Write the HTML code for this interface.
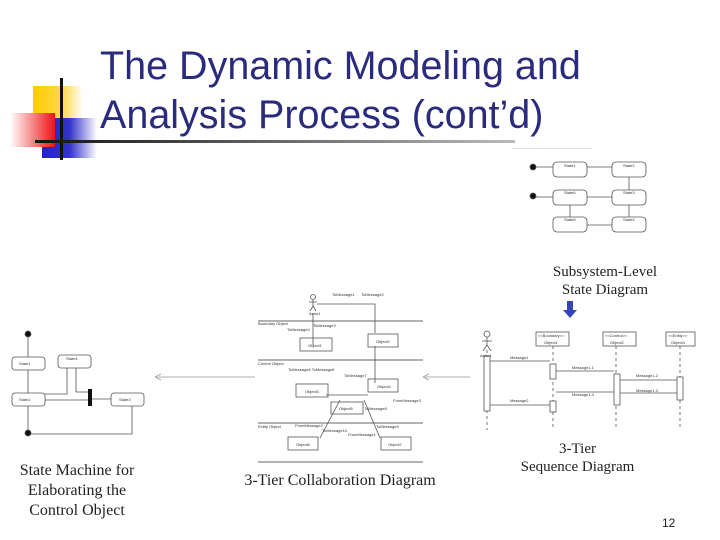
<!DOCTYPE html>
<html><head><style>
body{margin:0;width:720px;height:540px;background:#fff;overflow:hidden;position:relative;font-family:"Liberation Sans",sans-serif}
.t{position:absolute;left:100px;top:42px;font-size:39.5px;line-height:49px;color:#2b2b7e;white-space:nowrap}
.cap{position:absolute;font-family:"Liberation Serif",serif;font-size:16px;color:#222;text-align:center;line-height:20px}
</style></head><body>
<svg width="720" height="540" style="position:absolute;left:0;top:0" font-family="Liberation Sans" font-size="4">
<defs>
<linearGradient id="y" x1="0" x2="1"><stop offset="0" stop-color="#ffcc00"/><stop offset="0.6" stop-color="#ffd84a"/><stop offset="1" stop-color="#fff"/></linearGradient>
<linearGradient id="r" x1="1" x2="0"><stop offset="0" stop-color="#ee1111"/><stop offset="1" stop-color="#fff"/></linearGradient>
<linearGradient id="b" x1="0" x2="1"><stop offset="0" stop-color="#2222cc"/><stop offset="0.5" stop-color="#3333cc"/><stop offset="1" stop-color="#fff"/></linearGradient>
<linearGradient id="l" x1="0" x2="1"><stop offset="0" stop-color="#111"/><stop offset="1" stop-color="#bbb"/></linearGradient>
</defs>
<rect x="33" y="86" width="50" height="34" fill="url(#y)"/>
<rect x="42" y="118" width="55" height="40" fill="url(#b)"/>
<rect x="10" y="113" width="45" height="34" fill="url(#r)"/>
<rect x="60" y="78" width="3" height="82" fill="#111"/>
<rect x="35" y="140" width="480" height="3" fill="url(#l)"/>
<rect x="512" y="148" width="80" height="1" fill="#ddd"/>
<g fill="none" stroke="#555" stroke-width="0.8">
<circle cx="533" cy="167" r="3" fill="#111"/><circle cx="533" cy="196" r="3" fill="#111"/>
<rect x="553" y="162" width="34" height="15" rx="4"/><rect x="612" y="162" width="34" height="15" rx="4"/>
<rect x="553" y="190" width="34" height="15" rx="4"/><rect x="612" y="190" width="34" height="15" rx="4"/>
<rect x="553" y="217" width="34" height="15" rx="4"/><rect x="612" y="217" width="34" height="15" rx="4"/>
<path d="M536 167H553M587 167H612M629 177V190M587 197H612M553 197H536M629 205V217M612 225H587M570 217V205"/>
<rect x="536" y="332" width="33" height="14"/><rect x="603" y="332" width="33" height="14"/><rect x="666" y="332" width="29" height="14"/>
<path d="M487 350V430M553 346V430M616 346V430M680 346V430" stroke-dasharray="3 3"/>
<rect x="484" y="356" width="6" height="55" fill="#fff"/><rect x="550" y="364" width="6" height="15" fill="#fff"/>
<rect x="614" y="374" width="6" height="31" fill="#fff"/><rect x="677" y="377" width="6" height="23" fill="#fff"/>
<rect x="550" y="401" width="6" height="11" fill="#fff"/>
<path d="M490 361H550M556 371H614M620 380H677M677 393H620M614 392H556M550 405H490"/>
<circle cx="487" cy="334" r="3"/><path d="M487 337V345M482 341H492M487 345L483 351M487 345L491 351"/>
<path d="M157 377H255M155 377l6-3M155 377l6 3M425 377H470M423 377l6-3M423 377l6 3" stroke="#999"/>
<path d="M258 321H423M258 360H423M258 423H423M258 462H423" stroke="#333"/>
<circle cx="313" cy="297" r="2.5"/><path d="M313 300V306M309 302H317M313 306L310 311M313 306L316 311"/>
<path d="M317 304H375V333M313 313V345M375 346V383M326 395H368M340 400L320 438M364 400L380 438"/>
<rect x="300" y="338" width="32" height="13"/><rect x="368" y="334" width="30" height="13"/>
<rect x="296" y="384" width="32" height="13"/><rect x="368" y="379" width="30" height="13"/>
<rect x="331" y="402" width="32" height="12"/><rect x="288" y="437" width="30" height="13"/><rect x="381" y="437" width="30" height="13"/>
<circle cx="28" cy="334" r="3" fill="#111"/><circle cx="28" cy="433" r="3" fill="#111"/>
<rect x="12" y="357" width="33" height="13" rx="3"/><rect x="58" y="355" width="33" height="13" rx="3"/>
<rect x="12" y="393" width="33" height="13" rx="3"/><rect x="111" y="393" width="33" height="13" rx="3"/>
<path d="M28 337V357M28 370V393M28 406V430M45 394H67V368M76 368V392H88M45 400H88M92 399H111M132 406V434H31"/>
</g>
<rect x="88" y="389" width="4" height="17" fill="#111"/>
<path d="M567 301h6v9h4l-7 8l-7-8h4z" fill="#3344bb"/>
<g fill="#333">
<text x="564" y="167">State1</text><text x="623" y="167">State2</text><text x="564" y="194">State6</text><text x="623" y="194">State3</text><text x="564" y="221">State5</text><text x="623" y="221">State4</text>
<text x="538" y="337">&lt;&lt;Boundary&gt;&gt;</text><text x="544" y="344">Object1</text><text x="605" y="337">&lt;&lt;Control&gt;&gt;</text><text x="610" y="344">Object2</text><text x="668" y="337">&lt;&lt;Entity&gt;&gt;</text><text x="671" y="344">Object3</text>
<text x="480" y="357">Actor1</text><text x="510" y="359">Message1</text><text x="572" y="369">Message1.1</text><text x="636" y="377">Message1.2</text><text x="636" y="392">Message1.3</text><text x="572" y="396">Message1.4</text><text x="510" y="402">Message2</text>
<text x="332" y="296">ToMessage1</text><text x="361" y="296">ToMessage2</text><text x="309" y="315">Actor1</text><text x="258" y="325">Boundary Object</text><text x="313" y="327">ToMessage3</text><text x="287" y="331">ToMessage4</text>
<text x="308" y="347">Object1</text><text x="376" y="343">Object2</text><text x="258" y="365">Control Object</text><text x="288" y="371">ToMessage6 ToMessage5</text><text x="344" y="377">ToMessage7</text>
<text x="305" y="393">Object3</text><text x="377" y="388">Object4</text><text x="393" y="402">FromMessage3</text><text x="339" y="410">Object5</text><text x="364" y="410">ToMessage8</text>
<text x="258" y="428">Entity Object</text><text x="295" y="427">FromMessage2</text><text x="322" y="432">ToMessage10</text><text x="348" y="436">FromMessage1</text><text x="376" y="428">ToMessage9</text>
<text x="296" y="446">Object6</text><text x="388" y="446">Object7</text>
<text x="19" y="365">State1</text><text x="66" y="360">State4</text><text x="19" y="401">State2</text><text x="119" y="401">State3</text>
</g>
</svg>
<div class="t">The Dynamic Modeling and<br>Analysis Process (cont’d)</div>
<div class="cap" style="left:530px;top:263px;width:150px;font-size:15px;line-height:18px">Subsystem-Level<br>State Diagram</div>
<div class="cap" style="left:500px;top:440px;width:155px;font-size:15px;line-height:18px">3-Tier<br>Sequence Diagram</div>
<div class="cap" style="left:225px;top:471px;width:230px">3-Tier Collaboration Diagram</div>
<div class="cap" style="left:7px;top:461px;width:140px">State Machine for<br>Elaborating the<br>Control Object</div>
<div style="position:absolute;left:662px;top:516px;font-size:12px;color:#222">12</div>
</body></html>
